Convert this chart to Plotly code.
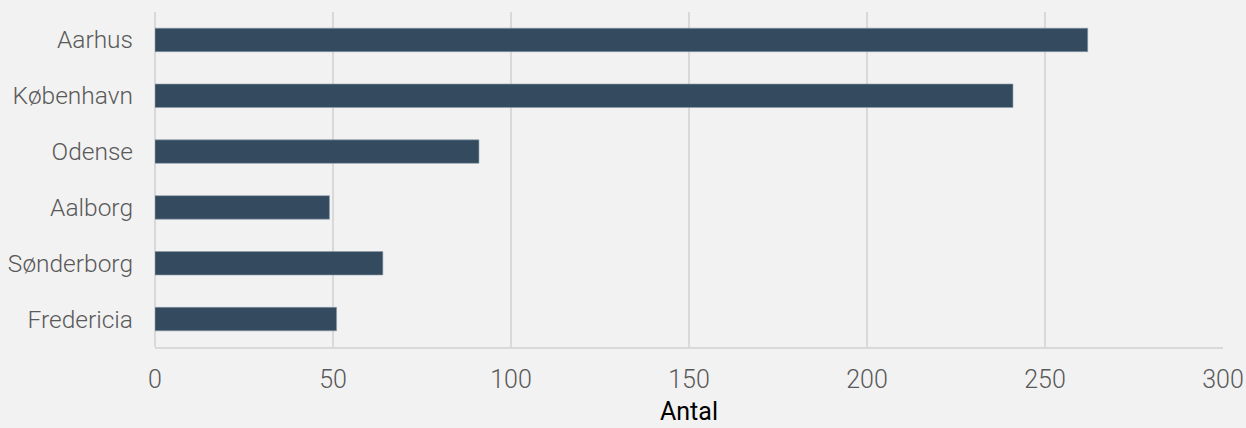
import plotly.graph_objects as go

cities = ["Aarhus", "København", "Odense", "Aalborg", "Sønderborg", "Fredericia"]
antal = [262, 241, 91, 49, 64, 51]
x_ticks = [0, 50, 100, 150, 200, 250, 300]
x_title = "Antal"

BG = "#f2f2f2"
GRID = "#d9d9d9"
BAR = "#344b5f"
FONT = "Roboto"

fig = go.Figure(go.Bar(
    y=cities,
    x=antal,
    orientation="h",
    width=0.42,
    marker=dict(color=BAR, line=dict(color="#8a9aa8", width=0.6)),
))

fig.update_layout(
    width=1246, height=428,
    paper_bgcolor=BG, plot_bgcolor=BG,
    margin=dict(l=155, r=23, t=12, b=81, autoexpand=False),
    showlegend=False,
    font=dict(family=FONT, size=24, color="#595959", weight=300),
)
fig.update_xaxes(
    range=[0, 300], tickvals=x_ticks, automargin=False,
    showgrid=True, gridcolor=GRID, gridwidth=2,
    showline=True, linecolor=GRID, linewidth=2,
    zeroline=True, zerolinecolor=GRID, zerolinewidth=2,
    ticks="", ticklabelstandoff=9,
    tickfont=dict(family=FONT, size=25, color="#595959", weight=300),
)
fig.update_yaxes(
    autorange="reversed", automargin=False,
    showgrid=False, ticks="", ticklabelstandoff=21,
    tickfont=dict(family=FONT, size=24.5, color="#595959", weight=300),
)
fig.add_annotation(
    text=x_title, xref="paper", yref="paper",
    x=0.5, y=-80 / 335, xanchor="center", yanchor="bottom",
    showarrow=False, borderpad=0,
    font=dict(family=FONT, size=25, color="#000000", weight=400),
)

fig.write_html(
    "out.html",
    config={"displayModeBar": False},
    post_script="document.body.style.margin='0';document.body.style.background='#f2f2f2';",
)
